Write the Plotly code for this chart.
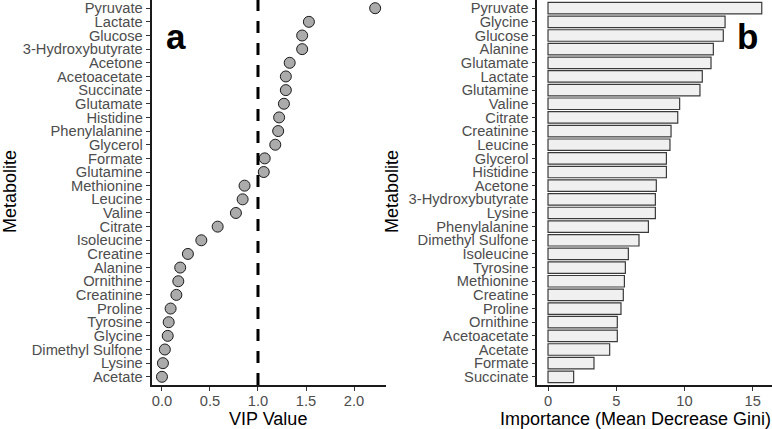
import plotly.graph_objects as go

# ---- Panel a: VIP values (bottom -> top) ----
vip_metabolites = ["Acetate", "Lysine", "Dimethyl Sulfone", "Glycine", "Tyrosine", "Proline",
                   "Creatinine", "Ornithine", "Alanine", "Creatine", "Isoleucine", "Citrate",
                   "Valine", "Leucine", "Methionine", "Glutamine", "Formate", "Glycerol",
                   "Phenylalanine", "Histidine", "Glutamate", "Succinate", "Acetoacetate",
                   "Acetone", "3-Hydroxybutyrate", "Glucose", "Lactate", "Pyruvate"]
vip_values = [0.00, 0.01, 0.03, 0.06, 0.07, 0.09, 0.15, 0.17, 0.19, 0.27, 0.41, 0.58,
              0.77, 0.84, 0.86, 1.06, 1.07, 1.18, 1.21, 1.22, 1.27, 1.29, 1.29, 1.33,
              1.46, 1.46, 1.53, 2.22]
vip_ticks = [0.0, 0.5, 1.0, 1.5, 2.0]
vip_threshold = 1.0

# ---- Panel b: Random forest importance (bottom -> top) ----
rf_metabolites = ["Succinate", "Formate", "Acetate", "Acetoacetate", "Ornithine", "Proline",
                  "Creatine", "Methionine", "Tyrosine", "Isoleucine", "Dimethyl Sulfone",
                  "Phenylalanine", "Lysine", "3-Hydroxybutyrate", "Acetone", "Histidine",
                  "Glycerol", "Leucine", "Creatinine", "Citrate", "Valine", "Glutamine",
                  "Lactate", "Glutamate", "Alanine", "Glucose", "Glycine", "Pyruvate"]
rf_values = [1.88, 3.37, 4.52, 5.08, 5.08, 5.35, 5.52, 5.60, 5.67, 5.89, 6.67, 7.36,
             7.87, 7.87, 7.94, 8.68, 8.68, 8.94, 9.02, 9.51, 9.65, 11.14, 11.31, 11.95,
             12.12, 12.85, 12.98, 15.67]
rf_ticks = [0, 5, 10, 15]

W, H = 772, 429
FONT = "Liberation Sans, Arial, sans-serif"
TICK_COLOR = "#4d4d4d"

fig = go.Figure()

fig.add_trace(go.Scatter(
    x=vip_values, y=vip_metabolites, mode="markers",
    marker=dict(size=11, color="#ababab", line=dict(color="#1a1a1a", width=1)),
    xaxis="x", yaxis="y", showlegend=False, hoverinfo="x+y"))

fig.add_trace(go.Bar(
    x=rf_values, y=rf_metabolites, orientation="h", width=0.84,
    marker=dict(color="#f0f0f0", line=dict(color="#3a3a3a", width=1.2)),
    xaxis="x2", yaxis="y2", showlegend=False))

bottom = 385
ydom = [(H - bottom) / H, 1.0]

axis_common = dict(showline=True, linecolor="#1a1a1a", linewidth=1.5, mirror=False,
                   ticks="outside", ticklen=4, tickwidth=1, tickcolor="#333333",
                   showgrid=False, zeroline=False,
                   tickfont=dict(family=FONT, size=14.7, color=TICK_COLOR))

fig.update_layout(
    width=W, height=H, margin=dict(l=0, r=0, t=0, b=0),
    paper_bgcolor="white", plot_bgcolor="white",
    font=dict(family=FONT),
    xaxis=dict(domain=[151.5 / W, 386 / W], range=[-0.109, 2.333],
               tickmode="array", tickvals=vip_ticks,
               ticktext=[f"{v:.1f}" for v in vip_ticks],
               ticklabelstandoff=-2, anchor="y", **axis_common),
    yaxis=dict(domain=ydom, type="category", categoryorder="array",
               categoryarray=vip_metabolites, range=[-0.6, 27.6],
               tickmode="array", tickvals=vip_metabolites, ticktext=vip_metabolites,
               anchor="x", **axis_common),
    xaxis2=dict(domain=[537.3 / W, 1.0], range=[-0.785, 16.42],
                tickmode="array", tickvals=rf_ticks,
                ticktext=[str(v) for v in rf_ticks],
                ticklabelstandoff=-2, anchor="y2", **axis_common),
    yaxis2=dict(domain=ydom, type="category", categoryorder="array",
                categoryarray=rf_metabolites, range=[-0.6, 27.6],
                tickmode="array", tickvals=rf_metabolites, ticktext=rf_metabolites,
                anchor="x2", **axis_common),
    bargap=0.15,
)

# dashed threshold line
fig.add_shape(type="line", xref="x", yref="paper", x0=vip_threshold, x1=vip_threshold,
              y0=ydom[0], y1=1.0, line=dict(color="black", width=3, dash="12px,10px"))

def ann(text, px, py, size, angle=0, bold=False, color="black"):
    fig.add_annotation(text=f"<b>{text}</b>" if bold else text,
                       x=px / W, y=1 - py / H, xref="paper", yref="paper",
                       showarrow=False, textangle=angle,
                       font=dict(family=FONT, size=size, color=color),
                       xanchor="center", yanchor="middle")

ann("VIP Value", 268, 419, 18)
ann("Importance (Mean Decrease Gini)", 635, 419, 18)
ann("Metabolite", 10, 192, 18, angle=-90)
ann("Metabolite", 392, 192, 18, angle=-90)
ann("a", 176, 36, 35, bold=True)
ann("b", 747, 36, 35, bold=True)

fig.write_html("out.html")
